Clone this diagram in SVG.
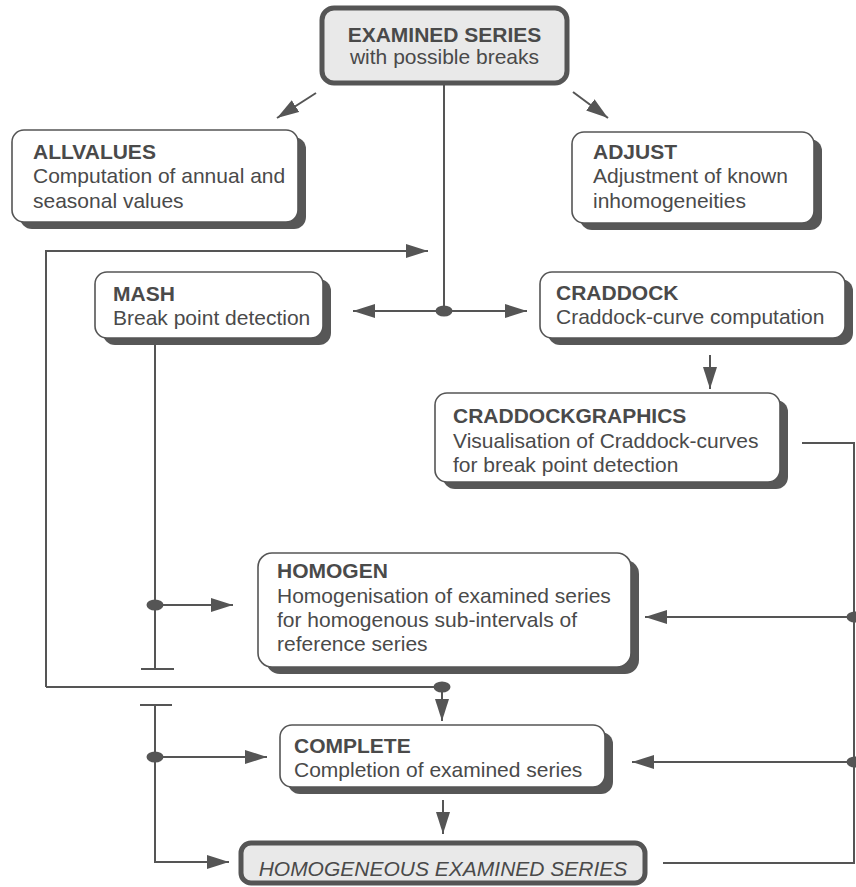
<svg xmlns="http://www.w3.org/2000/svg" width="856" height="887" viewBox="0 0 856 887">
<defs>
<style>
.t{font-family:"Liberation Sans",Arial,sans-serif;font-size:21px;fill:#4a4a4a}
.b{font-weight:bold}
.sh{fill:#575757}
.bx{fill:#ffffff;stroke:#555;stroke-width:1.6}
.mx{fill:#e9e9e9;stroke:#555;stroke-width:5}
.c{fill:none;stroke:#555;stroke-width:2}
.dot{fill:#555}
</style>
<marker id="ah" markerUnits="userSpaceOnUse" markerWidth="24" markerHeight="16" refX="22" refY="7" orient="auto">
<path d="M0,0 L22,7 L0,14 z" fill="#555"/>
</marker>
</defs>
<rect width="856" height="887" fill="#ffffff"/>

<g id="connectors">
<line class="c" x1="444" y1="83" x2="444" y2="311"/>
<line class="c" x1="316" y1="93" x2="277" y2="118" marker-end="url(#ah)"/>
<line class="c" x1="573" y1="92" x2="608" y2="118" marker-end="url(#ah)"/>
<line class="c" x1="444" y1="311" x2="353" y2="311" marker-end="url(#ah)"/>
<line class="c" x1="444" y1="311" x2="527" y2="311" marker-end="url(#ah)"/>
<path class="c" d="M46,687 L46,251 L428,251" marker-end="url(#ah)"/>
<line class="c" x1="46" y1="687" x2="442" y2="687"/>
<line class="c" x1="442" y1="687" x2="442" y2="721" marker-end="url(#ah)"/>
<line class="c" x1="155" y1="338" x2="155" y2="669"/>
<line class="c" x1="141" y1="669" x2="174" y2="669"/>
<line class="c" x1="155" y1="605" x2="233" y2="605" marker-end="url(#ah)"/>
<line class="c" x1="140" y1="705" x2="172" y2="705"/>
<path class="c" d="M155,705 L155,862 L229,862" marker-end="url(#ah)"/>
<line class="c" x1="155" y1="757" x2="267" y2="757" marker-end="url(#ah)"/>
<line class="c" x1="710" y1="355" x2="710" y2="389" marker-end="url(#ah)"/>
<line class="c" x1="443" y1="800" x2="443" y2="834" marker-end="url(#ah)"/>
<path class="c" d="M802,443 L854,443 L854,863 L663,863"/>
<line class="c" x1="854" y1="617" x2="645" y2="617" marker-end="url(#ah)"/>
<line class="c" x1="854" y1="762" x2="632" y2="762" marker-end="url(#ah)"/>
<ellipse class="dot" cx="444" cy="311" rx="8.5" ry="5.5"/>
<ellipse class="dot" cx="155" cy="605" rx="8.5" ry="5.5"/>
<ellipse class="dot" cx="155" cy="757" rx="8.5" ry="5.5"/>
<ellipse class="dot" cx="442" cy="687" rx="8.5" ry="5.5"/>
<ellipse class="dot" cx="855" cy="617" rx="8.5" ry="5.5"/>
<ellipse class="dot" cx="855" cy="762" rx="8.5" ry="5.5"/>
</g>

<g id="examined">
<rect class="mx" x="322" y="8" width="245" height="75" rx="12"/>
<text class="t b" x="444.5" y="42" text-anchor="middle">EXAMINED SERIES</text>
<text class="t" x="444.5" y="64" text-anchor="middle">with possible breaks</text>
</g>

<g id="allvalues">
<rect class="sh" x="20" y="137" width="286" height="92" rx="12"/>
<rect class="bx" x="12" y="130" width="286" height="92" rx="12"/>
<text class="t b" x="33" y="159">ALLVALUES</text>
<text class="t" x="33" y="183">Computation of annual and</text>
<text class="t" x="33" y="208">seasonal values</text>
</g>

<g id="adjust">
<rect class="sh" x="580" y="139" width="242" height="91" rx="12"/>
<rect class="bx" x="572" y="132" width="242" height="91" rx="12"/>
<text class="t b" x="593" y="159">ADJUST</text>
<text class="t" x="593" y="183">Adjustment of known</text>
<text class="t" x="593" y="208">inhomogeneities</text>
</g>

<g id="mash">
<rect class="sh" x="103" y="279" width="228" height="66" rx="12"/>
<rect class="bx" x="95" y="272" width="228" height="66" rx="12"/>
<text class="t b" x="113" y="301">MASH</text>
<text class="t" x="113" y="325">Break point detection</text>
</g>

<g id="craddock">
<rect class="sh" x="548" y="279" width="305" height="66" rx="12"/>
<rect class="bx" x="540" y="272" width="305" height="66" rx="12"/>
<text class="t b" x="556" y="300">CRADDOCK</text>
<text class="t" x="556" y="324">Craddock-curve computation</text>
</g>

<g id="craddockgraphics">
<rect class="sh" x="443" y="400" width="345" height="89" rx="12"/>
<rect class="bx" x="435" y="393" width="345" height="89" rx="12"/>
<text class="t b" x="453" y="423">CRADDOCKGRAPHICS</text>
<text class="t" x="453" y="448">Visualisation of Craddock-curves</text>
<text class="t" x="453" y="472">for break point detection</text>
</g>

<g id="homogen">
<rect class="sh" x="266" y="560" width="373" height="114" rx="14"/>
<rect class="bx" x="258" y="553" width="373" height="114" rx="14"/>
<text class="t b" x="277" y="578">HOMOGEN</text>
<text class="t" x="277" y="603">Homogenisation of examined series</text>
<text class="t" x="277" y="627">for homogenous sub-intervals of</text>
<text class="t" x="277" y="651">reference series</text>
</g>

<g id="complete">
<rect class="sh" x="288" y="732" width="325" height="62" rx="12"/>
<rect class="bx" x="280" y="725" width="325" height="62" rx="12"/>
<text class="t b" x="294" y="753">COMPLETE</text>
<text class="t" x="294" y="777">Completion of examined series</text>
</g>

<g id="homogeneous">
<rect class="mx" x="241" y="843" width="404" height="40" rx="10"/>
<text class="t" x="443" y="876" text-anchor="middle" font-style="italic" font-size="21.5">HOMOGENEOUS EXAMINED SERIES</text>
</g>
</svg>
